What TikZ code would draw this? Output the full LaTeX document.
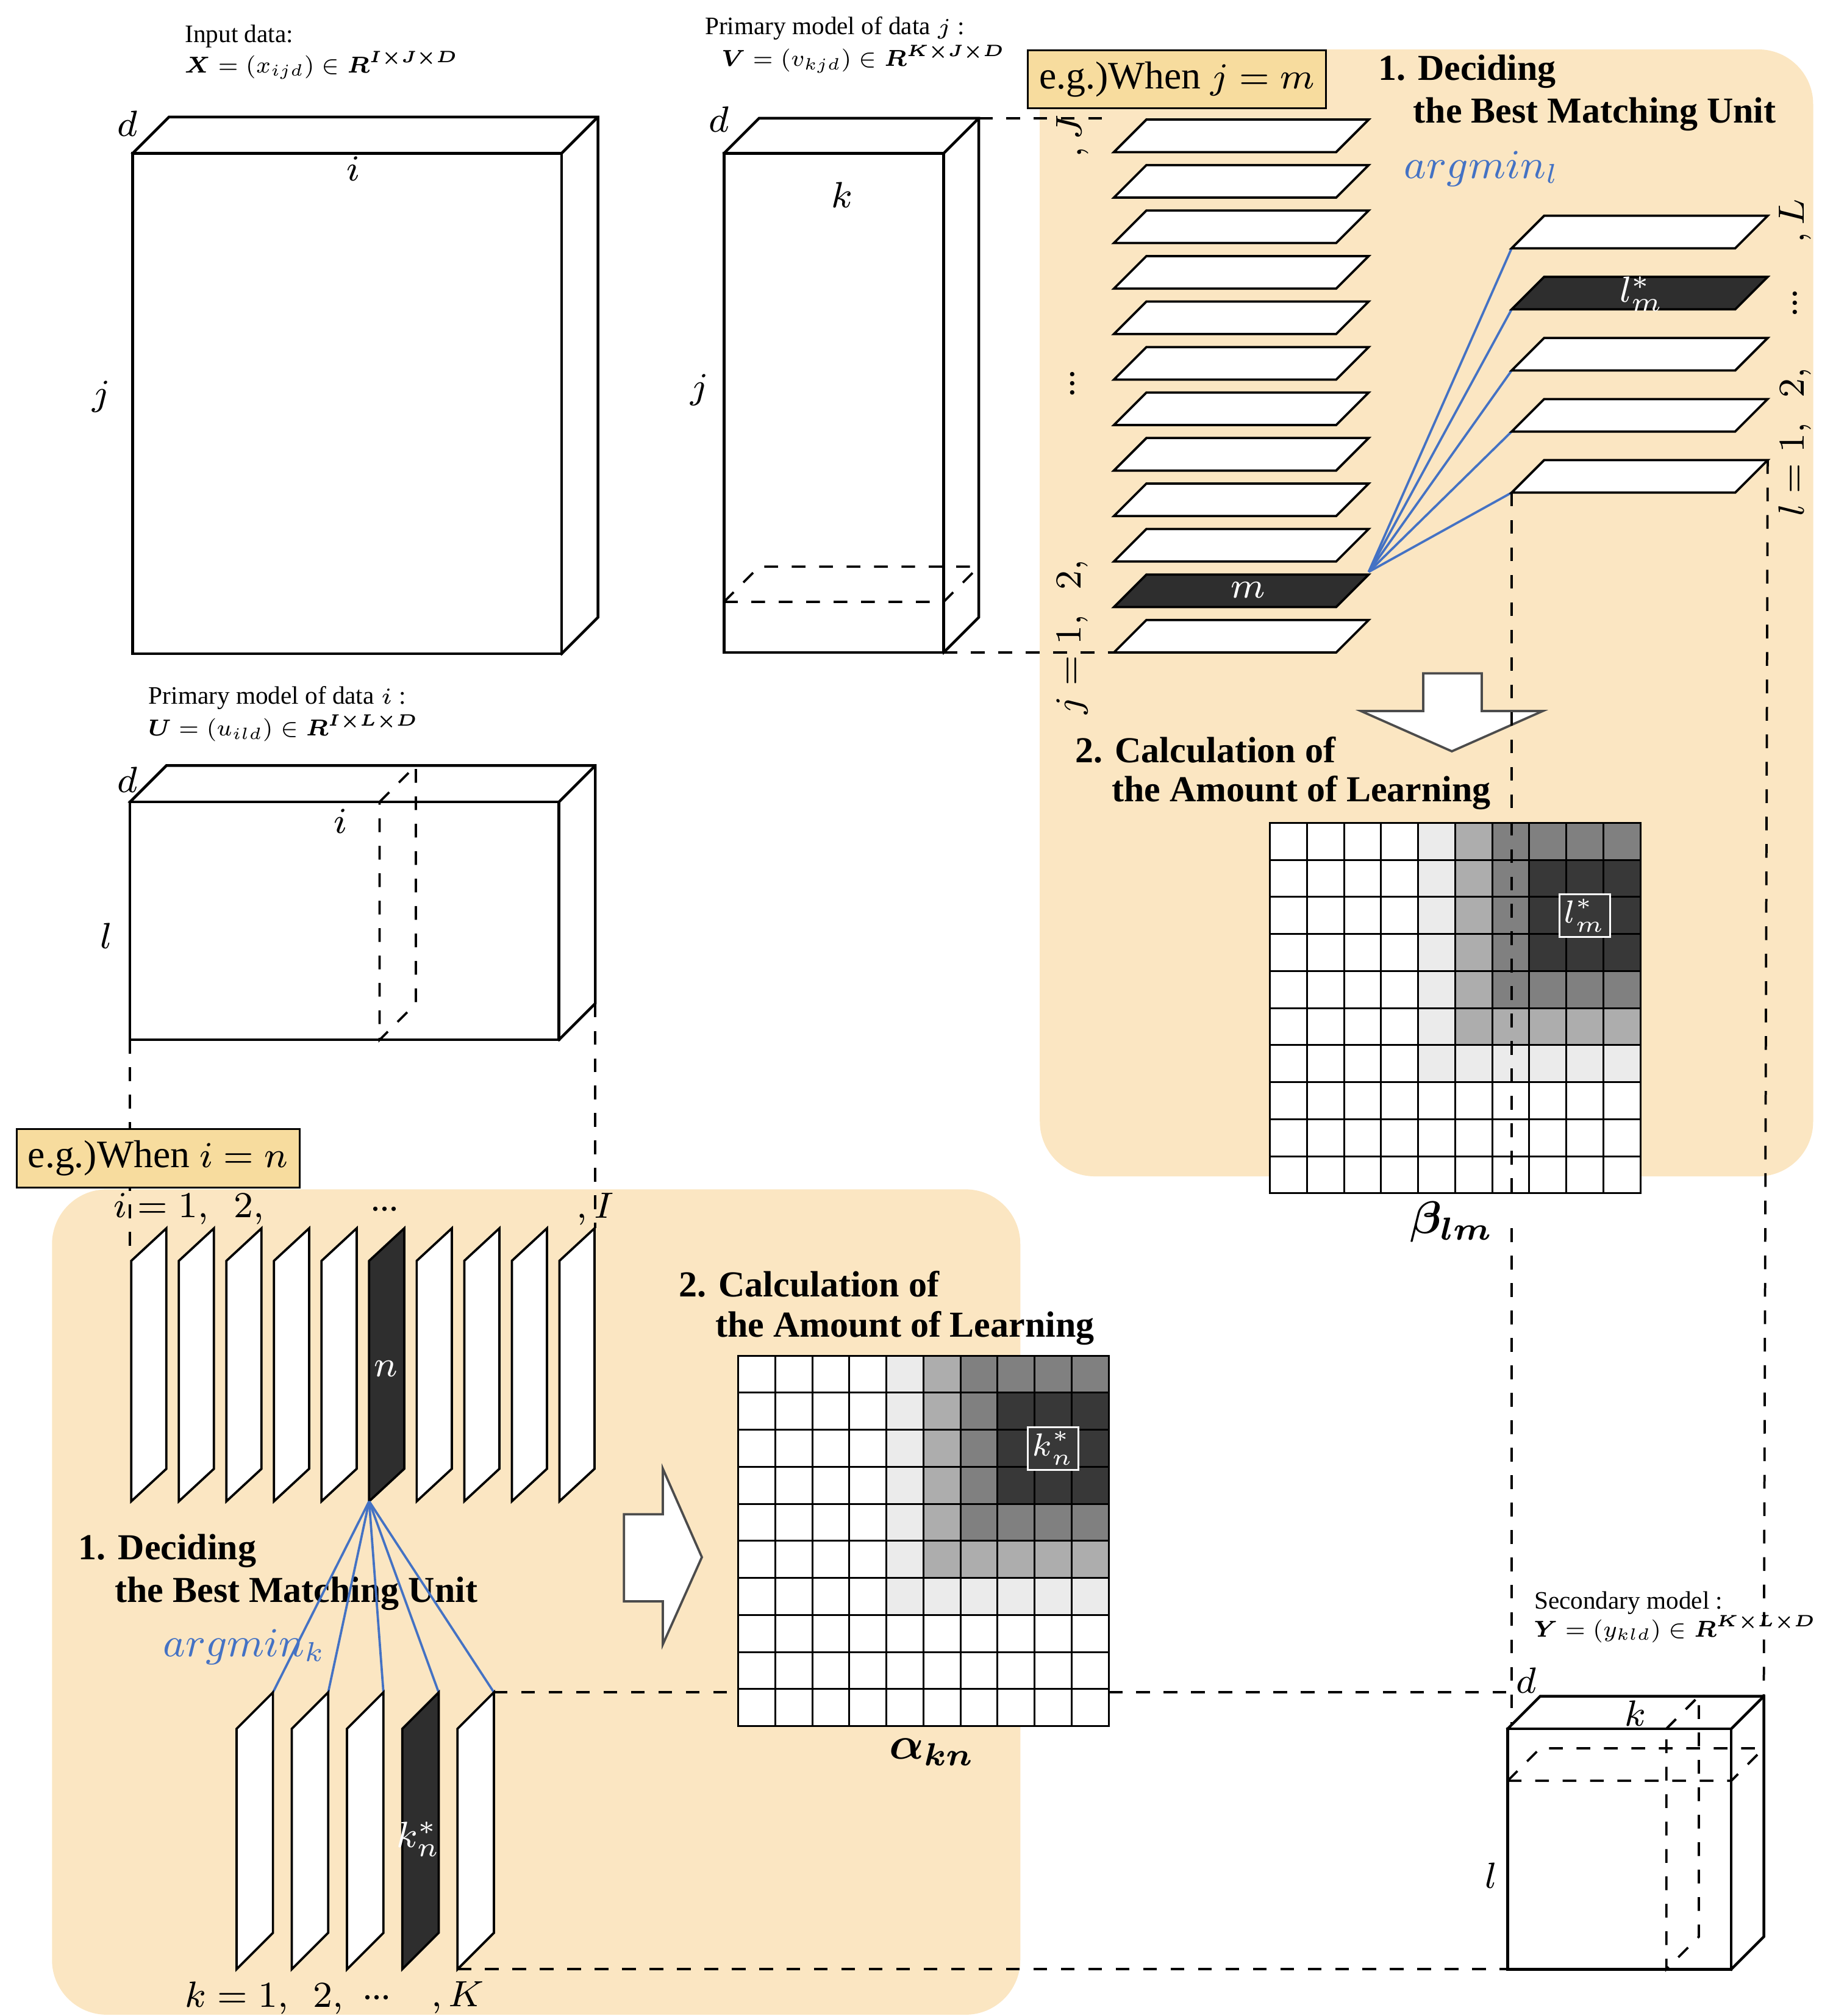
\documentclass[tikz,border=0pt]{standalone}
\usepackage{fontspec}
\setmainfont{Liberation Serif}
\usepackage{amsmath}
\usetikzlibrary{arrows.meta}
\usetikzlibrary{positioning}
\usetikzlibrary{calc}
\definecolor{areaorange}{HTML}{FBE6C2}
\definecolor{tagorange}{HTML}{F7DC9E}
\definecolor{bmublue}{HTML}{4472C4}
\tikzset{
    >={Latex[width=2mm,length=2mm]},
    area/.style = {fill=areaorange, rounded corners=12pt, draw=none},
    tag/.style = {draw=black, fill=tagorange, font=\fontsize{8.5}{10}\selectfont, inner sep=2.5pt, anchor=north west, minimum height=0.44cm},
    step_title/.style = {font=\bfseries\fontsize{8}{9}\selectfont, anchor=west, align=left},
    caption/.style = {font=\fontsize{5.5}{7}\selectfont, anchor=west},
    formula/.style = {font=\fontsize{7}{8}\selectfont, anchor=west, scale=0.72, transform shape},
    axis/.style = {font=\fontsize{8}{9}\selectfont},
    slice/.style = {draw=black, fill=white, line width=0.5pt},
    bmu_slice/.style = {draw=black, fill=black!82, line width=0.5pt},
    box/.style = {draw=black, fill=white, line width=0.6pt},
    guide/.style = {dashed, line width=0.5pt},
    link/.style = {draw=bmublue, line width=0.5pt},
    big_arrow/.style = {draw=black!70, fill=white, line width=0.5pt}
}
% shaded neighbourhood grid: #1 = name, #2 = upper-left corner, #3 = label
\newcommand{\learngrid}[3]{%
  \foreach \r in {0,...,9}{
    \foreach \c in {0,...,9}{
      \pgfmathtruncatemacro{\dist}{max(abs(\r-2),abs(\c-8))}
      \ifcase\dist \def\shade{black!78}\or\def\shade{black!78}\or\def\shade{black!50}\or\def\shade{black!32}\or\def\shade{black!8}\else\def\shade{white}\fi
      \draw[fill=\shade, line width=0.4pt] ($(#2)+(\c*28.5,\r*28.5)$) rectangle ++(28.5,28.5);
    }
  }
  \node[draw=white, fill=black!78, text=white, inner sep=1pt, font=\fontsize{7.5}{8}\selectfont] (#1) at ($(#2)+(8.5*28.5,2.5*28.5)$) {$#3$};
}
\begin{document}
\begin{tikzpicture}[x=0.01cm, y=-0.01cm]
    \useasboundingbox (0,0) rectangle (1410,1551);
    % background areas
    \fill[area] (800,38) rectangle (1395,905);
    \fill[area] (40,915) rectangle (785,1550);

    %% input data X
    \node (x_cap) [caption] at (130,28) {Input data:};
    \node (x_def) [formula] at (133,50) {$\boldsymbol{X}=(x_{ijd})\in\boldsymbol{R}^{\boldsymbol{I\times J\times D}}$};
    \draw[box] (102,118) -- (130,90) -- (460,90) -- (460,475) -- (432,503) -- cycle;
    \draw[box] (102,118) rectangle (432,503);
    \draw[line width=0.6pt] (432,118) -- (460,90);
    \node [axis] at (98,95) {$d$};
    \node [axis] at (272,130) {$i$};
    \node [axis] at (78,305) {$j$};

    %% primary model V
    \node (v_cap) [caption] at (530,22) {Primary model of data $j$ :};
    \node (v_def) [formula] at (546,45) {$\boldsymbol{V}=(v_{kjd})\in\boldsymbol{R}^{\boldsymbol{K\times J\times D}}$};
    \draw[box] (557,118) -- (584,91) -- (753,91) -- (753,475) -- (726,502) -- cycle;
    \draw[box] (557,118) rectangle (726,502);
    \draw[line width=0.6pt] (726,118) -- (753,91);
    \draw[guide] (557,463) -- (584,436) -- (753,436);
    \draw[guide] (557,463) -- (726,463) -- (753,436);
    \node [axis] at (553,92) {$d$};
    \node [axis] at (648,150) {$k$};
    \node [axis] at (538,300) {$j$};
    \draw[guide] (753,91) -- (857,91);
    \draw[guide] (726,502) -- (857,502);

    %% j slices
    \node (tag_j) [tag] at (790,38) {e.g.)When $j=m$};
    \foreach \n in {0,...,11}{
        \pgfmathsetmacro{\yb}{502-35*\n}
        \ifnum\n=1 \def\sty{bmu_slice}\else\def\sty{slice}\fi
        \draw[\sty] (857,\yb) -- (882,\yb-25) -- (1053,\yb-25) -- (1028,\yb) -- cycle;
    }
    \node[text=white, axis] (m_lab) at (960,454) {$m$};
    \coordinate (m_tip) at (1053,440);
    \node[axis, rotate=90] at (825,490) {$j=1,\ \ 2,$};
    \node[axis, rotate=90] at (825,295) {...};
    \node[axis, rotate=90] at (825,105) {$,J$};

    \node (bmu_j1) [step_title] at (1048,55) {1. Deciding};
    \node (bmu_j2) [step_title] at (1075,88) {the Best Matching Unit};
    \node[text=bmublue, font=\fontsize{9}{10}\selectfont, anchor=west] at (1068,130) {$argmin_l$};

    %% l slices
    \foreach \n in {0,...,4}{
        \pgfmathsetmacro{\yb}{379-47*\n}
        \ifnum\n=3 \def\sty{bmu_slice}\else\def\sty{slice}\fi
        \coordinate (l\n) at (1163,\yb);
        \draw[link] (m_tip) -- (l\n);
        \draw[\sty] (1163,\yb) -- (1188,\yb-25) -- (1360,\yb-25) -- (1335,\yb) -- cycle;
    }
    \node[text=white, axis] (lm_lab) at (1263,226) {$l_m^*$};
    \node[axis, rotate=90] at (1381,340) {$l=1,\ \ 2,$};
    \node[axis, rotate=90] at (1381,233) {...};
    \node[axis, rotate=90] at (1381,170) {$,L$};

    \draw[big_arrow] (1095,518) -- (1140,518) -- (1140,547) -- (1187,547) -- (1117,578) -- (1047,547) -- (1095,547) -- cycle;

    \node (calc_j1) [step_title] at (815,577) {2. Calculation of};
    \node (calc_j2) [step_title] at (843,610) {the Amount of Learning};
    \coordinate (beta_ul) at (977,633);
    \learngrid{beta_star}{beta_ul}{l_m^*}
    \node (beta) [font=\fontsize{10}{12}\selectfont] at (1117,940) {$\boldsymbol{\beta_{lm}}$};

    %% primary model U
    \node (u_cap) [caption] at (102,537) {Primary model of data $i$ :};
    \node (u_def) [formula] at (105,560) {$\boldsymbol{U}=(u_{ild})\in\boldsymbol{R}^{\boldsymbol{I\times L\times D}}$};
    \draw[box] (100,617) -- (128,589) -- (458,589) -- (458,772) -- (430,800) -- cycle;
    \draw[box] (100,617) rectangle (430,800);
    \draw[line width=0.6pt] (430,617) -- (458,589);
    \draw[guide] (292,617) -- (320,589) -- (320,772) -- (292,800) -- cycle;
    \node [axis] at (98,600) {$d$};
    \node [axis] at (262,632) {$i$};
    \node [axis] at (82,720) {$l$};
    \draw[guide] (100,800) -- (100,965);
    \draw[guide] (458,772) -- (458,945);

    %% i slices
    \node (tag_i) [tag] at (12,868) {e.g.)When $i=n$};
    \foreach \n in {0,...,9}{
        \pgfmathsetmacro{\xl}{101+36.6*\n}
        \ifnum\n=5 \def\sty{bmu_slice}\else\def\sty{slice}\fi
        \draw[\sty] (\xl,1155) -- (\xl,970) -- (\xl+27,945) -- (\xl+27,1130) -- cycle;
    }
    \node[text=white, axis] (n_lab) at (297,1053) {$n$};
    \coordinate (n_tip) at (284,1155);
    \node[axis, anchor=west] at (75,930) {$i=1,\ \ 2,$};
    \node[axis] at (296,930) {...};
    \node[axis] at (458,930) {$,I$};

    \node (bmu_i1) [step_title] at (48,1193) {1. Deciding};
    \node (bmu_i2) [step_title] at (76,1226) {the Best Matching Unit};
    \node[text=bmublue, font=\fontsize{9}{10}\selectfont, anchor=west] at (113,1267) {$argmin_k$};

    %% k slices
    \foreach \n in {0,...,4}{
        \pgfmathsetmacro{\xl}{182+42.5*\n}
        \ifnum\n=3 \def\sty{bmu_slice}\else\def\sty{slice}\fi
        \coordinate (k\n) at (\xl+28,1302);
        \draw[link] (n_tip) -- (k\n);
        \draw[\sty] (\xl,1515) -- (\xl,1330) -- (\xl+28,1302) -- (\xl+28,1487) -- cycle;
    }
    \node[text=white, axis] (kn_lab) at (322,1415) {$k_n^*$};
    \node[axis, anchor=west] at (130,1537) {$k=1,\ \ 2,$};
    \node[axis] at (290,1537) {...};
    \node[axis] at (352,1537) {$,K$};

    \draw[big_arrow] (480,1165) -- (510,1165) -- (510,1130) -- (540,1198) -- (510,1265) -- (510,1232) -- (480,1232) -- cycle;

    \node (calc_i1) [step_title] at (510,988) {2. Calculation of};
    \node (calc_i2) [step_title] at (538,1022) {the Amount of Learning};
    \coordinate (alpha_ul) at (568,1043);
    \learngrid{alpha_star}{alpha_ul}{k_n^*}
    \node (alpha) [font=\fontsize{10}{12}\selectfont] at (717,1348) {$\boldsymbol{\alpha_{kn}}$};

    %% secondary model Y
    \node (y_cap) [caption] at (1168,1233) {Secondary model :};
    \node (y_def) [formula] at (1171,1253) {$\boldsymbol{Y}=(y_{kld})\in\boldsymbol{R}^{\boldsymbol{K\times L\times D}}$};
    \draw[guide] (1163,379) -- (1163,917);
    \draw[guide] (1163,945) -- (1163,1330);
    \draw[guide] (1360,354) -- (1357,1305);
    \draw[guide] (380,1302) -- (568,1302);
    \draw[guide] (853,1302) -- (1160,1302);
    \draw[guide] (352,1515) -- (1160,1515);
    \draw[box] (1160,1330) -- (1185,1305) -- (1357,1305) -- (1357,1490) -- (1332,1515) -- cycle;
    \draw[box] (1160,1330) rectangle (1332,1515);
    \draw[line width=0.6pt] (1332,1330) -- (1357,1305);
    \draw[guide] (1160,1370) -- (1185,1345) -- (1357,1345);
    \draw[guide] (1160,1370) -- (1332,1370) -- (1357,1345);
    \draw[guide] (1282,1330) -- (1307,1305) -- (1307,1490) -- (1282,1515) -- cycle;
    \node [axis] at (1174,1293) {$d$};
    \node [axis] at (1258,1318) {$k$};
    \node [axis] at (1147,1443) {$l$};
\end{tikzpicture}
\end{document}
